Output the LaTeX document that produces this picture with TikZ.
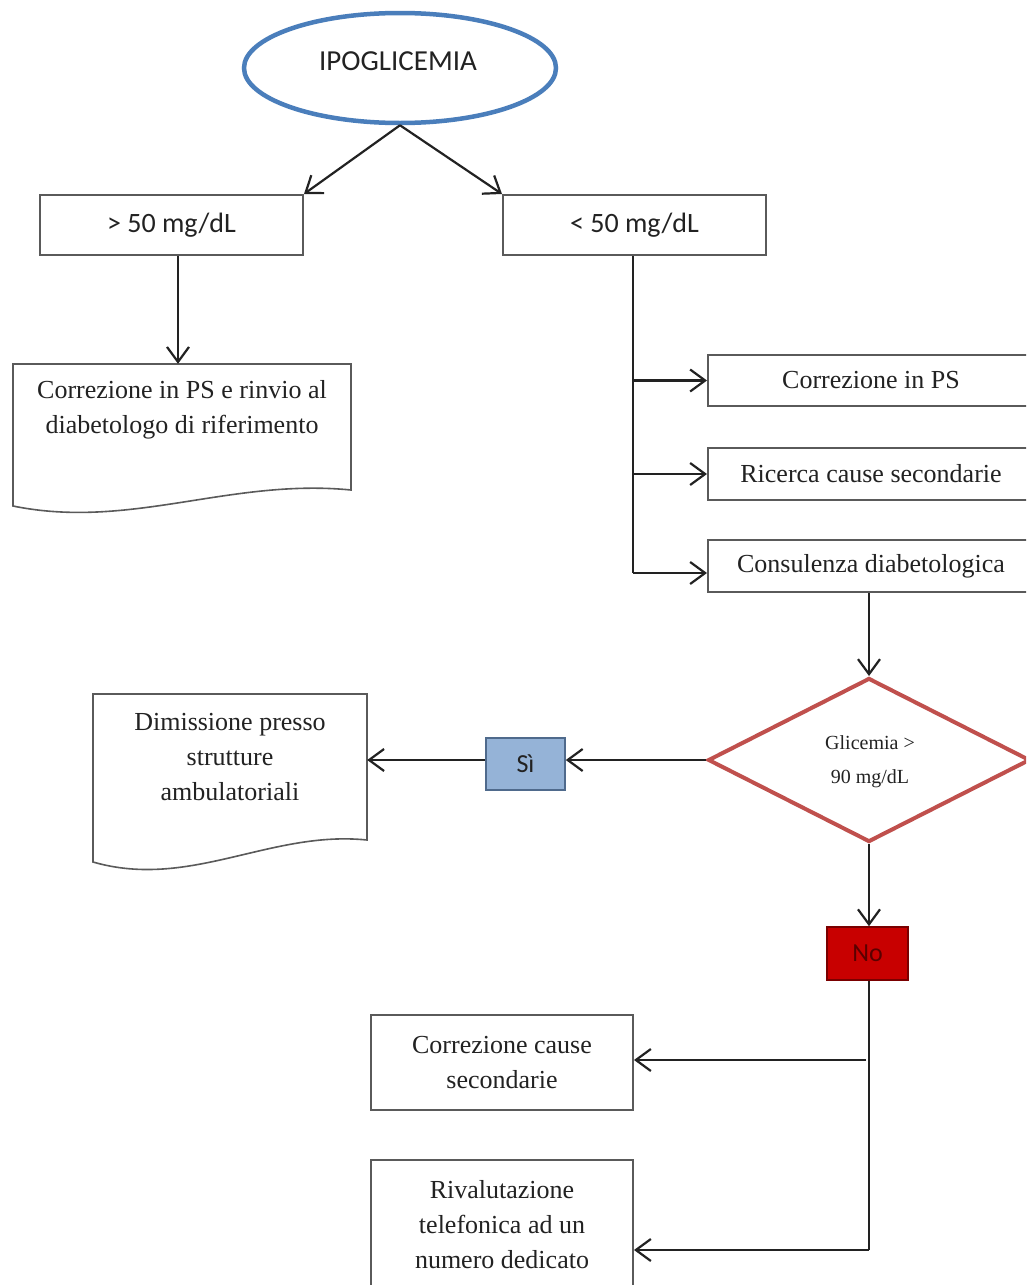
\documentclass[tikz,border=0pt]{standalone}
\usepackage{fontspec}
\setmainfont{Liberation Serif}
\newfontfamily\calibrifont{Carlito}
\usetikzlibrary{arrows.meta,shapes.geometric}
\definecolor{txt}{HTML}{222222}
\definecolor{boxline}{HTML}{5A5A5A}
\definecolor{conn}{HTML}{222222}
\definecolor{ellblue}{HTML}{4A7EBB}
\definecolor{diared}{HTML}{C0504D}
\definecolor{sifill}{HTML}{95B3D7}
\definecolor{siline}{HTML}{4F6A8C}
\definecolor{nofill}{HTML}{C80000}
\definecolor{noline}{HTML}{7A0000}
\definecolor{notext}{HTML}{5A0000}
\tikzset{
  serif/.style={font=\fontsize{26}{35}\selectfont, text=txt},
  sans/.style={font=\calibrifont\fontsize{28}{34}\selectfont, text=txt},
  boxnode/.style={draw=boxline, line width=2pt, fill=white, rectangle, inner sep=0pt, align=center},
  frame/.style={rectangle, inner sep=0pt, draw=none},
  arr/.style={draw=conn, line width=2.2pt, -{Straight Barb[length=15pt,width=22pt,line width=2.2pt]}},
  ln/.style={draw=conn, line width=2.2pt},
}
\begin{document}
\begin{tikzpicture}[x=1pt,y=-1pt]
\clip (0,0) rectangle (1026,1285);
\fill[white] (0,0) rectangle (1026,1285);

% top ellipse
\node[ellipse, draw=ellblue, line width=4.5pt, fill=white, minimum width=312pt, minimum height=110pt, inner sep=0pt] (ipo) at (400,68) {};
\node[sans, font=\calibrifont\fontsize{29}{34}\selectfont] (ipot) at (398,61) {IPOGLICEMIA};

% first level boxes
\node[boxnode, sans, minimum width=263pt, minimum height=60pt] (gt) at (171.5,225) {> 50 mg/dL};
\node[boxnode, sans, minimum width=263pt, minimum height=60pt] (lt) at (634.5,225) {< 50 mg/dL};

% document 1
\node[frame, minimum width=338pt, minimum height=126pt] (doc1) at (182,427) {};
\draw[boxline, line width=1.6pt, fill=white] (13,364) -- (351,364) -- (351,490)
   .. controls (230,478) and (130,530) .. (13,506) -- cycle;
\node[serif, align=center] (doc1t) at (182,410) {Correzione in PS e rinvio al\\diabetologo di riferimento};

% right column boxes
\node[boxnode, serif, minimum width=326pt, minimum height=51pt] (cps) at (871,380.5) {Correzione in PS};
\node[boxnode, serif, minimum width=326pt, minimum height=52pt] (rcs) at (871,474) {Ricerca cause secondarie};
\node[boxnode, serif, minimum width=326pt, minimum height=52pt] (cd) at (871,566) {Consulenza diabetologica};

% diamond
\node[diamond, draw=diared, line width=4pt, fill=white, minimum width=322pt, minimum height=164pt, aspect=1.96, inner sep=0pt] (dia) at (869,760) {};
\node[font=\fontsize{20}{34}\selectfont, text=txt, align=center] (diat) at (870,762) {Glicemia >\\90 mg/dL};

% Si box
\node[rectangle, draw=siline, fill=sifill, line width=1.6pt, minimum width=79pt, minimum height=52pt, sans, font=\calibrifont\fontsize{26}{30}\selectfont] (si) at (525.5,764) {Sì};

% document 2
\node[frame, minimum width=274pt, minimum height=146pt] (doc2) at (230,767) {};
\draw[boxline, line width=1.6pt, fill=white] (93,694) -- (367,694) -- (367,840)
   .. controls (270,830) and (190,890) .. (93,862) -- cycle;
\node[serif, align=center] (doc2t) at (230,757) {Dimissione presso\\strutture\\ambulatoriali};

% No box
\node[rectangle, draw=noline, fill=nofill, line width=1.6pt, minimum width=81pt, minimum height=53pt, font=\calibrifont\fontsize{26}{30}\selectfont, text=notext] (no) at (867.5,953.5) {No};

% bottom boxes
\node[boxnode, serif, minimum width=262pt, minimum height=95pt] (ccs) at (502,1062.5) {Correzione cause\\secondarie};
\node[boxnode, serif, minimum width=262pt, minimum height=130pt] (riv) at (502,1225) {Rivalutazione\\telefonica ad un\\numero dedicato};

% connectors
\draw[arr] (ipo.south) -- (gt.north east);
\draw[arr] (ipo.south) -- (lt.north west);
\draw[arr] (gt.south -| 178,0) -- (doc1.north -| 178,0);

\coordinate (trunk) at (633,573);
\draw[ln] (lt.south -| trunk) -- (trunk);
\draw[arr] (cps.west -| trunk) -- (cps.west);
\draw[arr] (rcs.west -| trunk) -- (rcs.west);
\draw[arr] (trunk) -- (cd.west |- trunk);

\draw[arr] (cd.south -| dia.north) -- (dia.north);
\draw[arr] (dia.west) -- (si.east |- dia.west);
\draw[arr] (si.west |- dia.west) -- (doc2.east |- dia.west);

\draw[arr] (dia.south) -- (no.north -| dia.south);
\coordinate (corner) at (869,1250);
\draw[ln] (no.south -| corner) -- (corner);
\draw[arr] (corner) -- (riv.east |- corner);
\draw[arr] (866,1060) -- (ccs.east |- 0,1060);
\end{tikzpicture}
\end{document}
